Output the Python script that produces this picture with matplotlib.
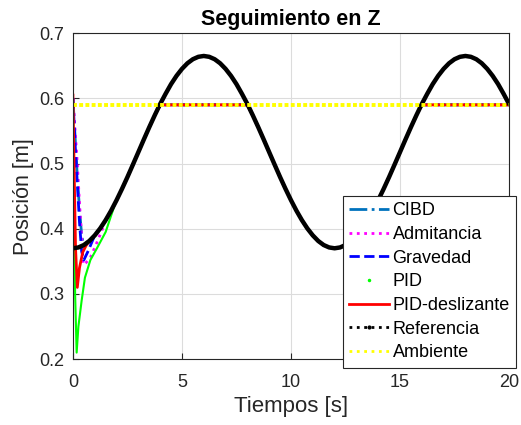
import numpy as np
import matplotlib
matplotlib.use("Agg")
from matplotlib import pyplot as plt
from matplotlib.lines import Line2D

plt.rcParams['font.family'] = ['Liberation Sans', 'DejaVu Sans']

# referencia senoidal muestreada cada 0.25 s
t_ref = np.arange(0, 20.25, 0.25)
z_ref = np.array([
    0.3700, 0.3713, 0.3750, 0.3812, 0.3898, 0.4005, 0.4132, 0.4277, 0.4438,
    0.4611, 0.4793, 0.4983, 0.5175, 0.5368, 0.5557, 0.5739, 0.5913, 0.6070,
    0.6218, 0.6345, 0.6452, 0.6538, 0.6600, 0.6637, 0.6650,
    0.6637, 0.6600, 0.6538, 0.6452, 0.6345, 0.6218, 0.6070, 0.5913, 0.5739,
    0.5557, 0.5368, 0.5175, 0.4983, 0.4793, 0.4611, 0.4438, 0.4277, 0.4132,
    0.4005, 0.3898, 0.3812, 0.3750, 0.3713, 0.3700,
    0.3713, 0.3750, 0.3812, 0.3898, 0.4005, 0.4132, 0.4277, 0.4438,
    0.4611, 0.4793, 0.4983, 0.5175, 0.5368, 0.5557, 0.5739, 0.5913, 0.6070,
    0.6218, 0.6345, 0.6452, 0.6538, 0.6600, 0.6637, 0.6650,
    0.6637, 0.6600, 0.6538, 0.6452, 0.6345, 0.6218, 0.6070, 0.5913])

# superficie del ambiente
t_amb = [0, 20]
z_amb = [0.59, 0.59]

# transitorios iniciales de cada controlador
t_cibd = [0, 0.1, 0.2, 0.3, 0.4, 0.5, 0.6]
z_cibd = [0.60, 0.54, 0.48, 0.43, 0.39, 0.372, 0.378]
t_adm = [0, 0.1, 0.2, 0.3, 0.4, 0.47, 0.6, 0.8, 1.05, 1.3]
z_adm = [0.60, 0.55, 0.50, 0.44, 0.385, 0.345, 0.348, 0.356, 0.375, 0.395]
t_grav = [0, 0.1, 0.2, 0.3, 0.4, 0.5, 0.7, 0.9]
z_grav = [0.60, 0.53, 0.47, 0.41, 0.365, 0.352, 0.366, 0.382]
t_pid = [0, 0.05, 0.1, 0.17, 0.25, 0.4, 0.55, 0.8, 1.1, 1.5, 1.9]
z_pid = [0.60, 0.45, 0.30, 0.21, 0.25, 0.29, 0.325, 0.352, 0.37, 0.395, 0.435]
t_pids = [0, 0.05, 0.12, 0.2, 0.3, 0.45, 0.6]
z_pids = [0.605, 0.50, 0.37, 0.31, 0.34, 0.364, 0.374]


def seguimiento(t_ini, z_ini):
    # tras el transitorio sigue la referencia, limitada por el ambiente
    m = t_ref > t_ini[-1]
    t = np.concatenate([t_ini, t_ref[m]])
    z = np.concatenate([z_ini, np.minimum(z_ref[m], z_amb[0])])
    return t, z


fig = plt.figure(figsize=(5.21, 4.25), dpi=100)
ax = fig.add_axes([0.140, 0.155, 0.837, 0.767])

c_cibd = (0, 0.447, 0.741)
ax.plot(*seguimiento(t_cibd, z_cibd), '-.', color=c_cibd, lw=2)
ax.plot(*seguimiento(t_adm, z_adm), ':', color='magenta', lw=2)
ax.plot(*seguimiento(t_grav, z_grav), '--', color='blue', lw=2)
ax.plot(*seguimiento(t_pid, z_pid), '-', color=(0, 1, 0), lw=1.5)
ax.plot(*seguimiento(t_pids, z_pids), '-', color='red', lw=2)
ax.plot(t_ref, z_ref, '-', color='black', lw=3.2, solid_joinstyle='round',
        solid_capstyle='round')
ax.plot(t_amb, z_amb, ls=(0, (1, 0.6)), color=(1, 1, 0), lw=2.8)

ax.set_xlim(0, 20)
ax.set_ylim(0.2, 0.7)
ax.set_xticks([0, 5, 10, 15, 20])
ax.set_yticks([0.2, 0.3, 0.4, 0.5, 0.6, 0.7])
ax.tick_params(direction='in', labelsize=13, colors='#262626', length=4)
ax.tick_params(axis='x', pad=11)
ax.tick_params(axis='y', pad=6)
ax.grid(True, color='#dcdcdc', lw=0.8)
ax.set_axisbelow(True)
for s in ax.spines.values():
    s.set_color('#262626')
    s.set_linewidth(0.8)

ax.set_xlabel('Tiempos [s]', fontsize=16, color='#262626', labelpad=3)
ax.set_ylabel('Posición [m]', fontsize=15.5, color='#262626', labelpad=4)
ax.set_title('Seguimiento en Z', fontsize=15.5, fontweight='bold', pad=6)

handles = [
    Line2D([], [], ls='-.', color=c_cibd, lw=2),
    Line2D([], [], ls=':', color='magenta', lw=2),
    Line2D([], [], ls='--', color='blue', lw=2),
    Line2D([], [], ls='none', marker='.', color=(0, 1, 0), ms=3),
    Line2D([], [], ls='-', color='red', lw=2),
    Line2D([], [], ls=':', marker='.', color='black', lw=2, ms=4),
    Line2D([], [], ls=':', color=(1, 1, 0), lw=2),
]
labels = ['CIBD', 'Admitancia', 'Gravedad', 'PID', 'PID-deslizante',
          'Referencia', 'Ambiente']
leg = fig.legend(handles, labels, loc='upper left', bbox_to_anchor=(0.658, 0.539),
                 fontsize=13, handlelength=2.2, handletextpad=0.2,
                 labelspacing=0.37, borderpad=0.35, fancybox=False,
                 framealpha=1, edgecolor='#262626', numpoints=1,
                 borderaxespad=0)
leg.get_frame().set_linewidth(0.8)

fig.savefig('out.png', dpi=100)
